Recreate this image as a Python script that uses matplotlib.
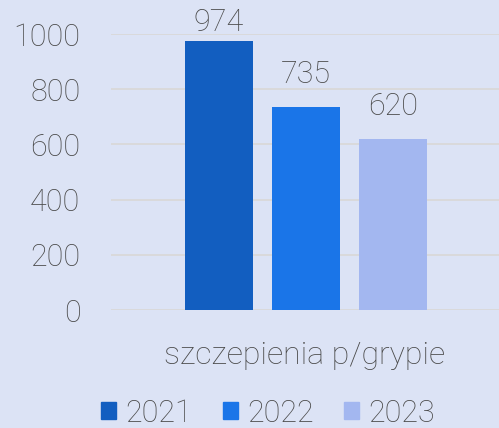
import numpy as np
import matplotlib.pyplot as plt
from matplotlib.patches import Patch

category = "szczepienia p/grypie"
years = ["2021", "2022", "2023"]
values = [974, 735, 620]
colors = ["#125ec0", "#1a75e8", "#a3b7f0"]

bg = "#dce3f5"
txt = "#4a4a4a"

plt.rcParams['font.family'] = ['Roboto', 'DejaVu Sans']
plt.rcParams['font.weight'] = 'light'

fig = plt.figure(figsize=(4.99, 4.28), dpi=100, facecolor=bg)
ax = fig.add_axes([111 / 499, 1 - 310 / 428, 388 / 499, 276 / 428])
ax.set_facecolor(bg)

pos = np.arange(len(years)) - 1
bars = ax.bar(pos, values, width=0.78, color=colors, zorder=3)
for b, v in zip(bars, values):
    # labels sit above the bar, but are kept inside the plot area
    ax.text(b.get_x() + b.get_width() / 2, min(v + 65, 989), str(v), ha='center',
            va='bottom', fontsize=22, color=txt, fontweight='light')

ax.set_ylim(0, 1000)
ax.set_xlim(-2.24, 2.22)
ax.set_yticks(range(0, 1001, 200))
ax.tick_params(axis='y', length=0, pad=22, labelsize=22, labelcolor=txt)
for lab in ax.get_yticklabels():
    lab.set_fontweight('light')
ax.set_xticks([])
ax.grid(axis='y', color='#d9d9d9', linewidth=1.3, zorder=0)
for s in ax.spines.values():
    s.set_visible(False)

fig.text(305 / 499, 1 - 356 / 428, category, ha='center', va='center',
         fontsize=23, color=txt, fontweight='light')

handles = [Patch(color=c) for c in colors]
leg = fig.legend(handles, years, loc='center', bbox_to_anchor=(268 / 499, 1 - 413 / 428),
                 ncol=3, frameon=False, handlelength=0.5, handleheight=0.5,
                 handletextpad=0.3, columnspacing=1.0, labelcolor=txt,
                 prop={'weight': 'light', 'size': 22})

fig.savefig("out.png", dpi=100, facecolor=bg)
